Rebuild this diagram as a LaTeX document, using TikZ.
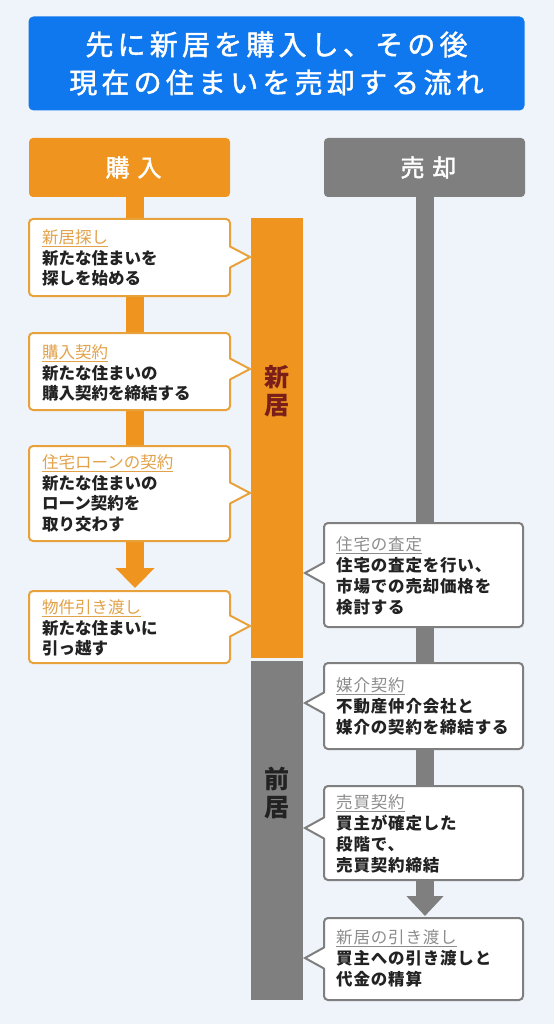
\documentclass[tikz,border=0pt]{standalone}
\usepackage{fontspec}
\setmainfont{Noto Sans CJK JP}
\newfontfamily\jpsp[LetterSpace=15,FakeBold=1.5]{Noto Sans CJK JP}
\newfontfamily\jphd[LetterSpace=33,FakeBold=1.8]{Noto Sans CJK JP}
\newfontfamily\jpsr[LetterSpace=5]{Noto Sans CJK JP}
\usetikzlibrary{arrows.meta}
\definecolor{bgc}{HTML}{EFF4FB}
\definecolor{tblue}{HTML}{1078EE}
\definecolor{org}{HTML}{EF951F}
\definecolor{orgl}{HTML}{E8A23C}
\definecolor{orgt}{HTML}{E2A24A}
\definecolor{gry}{HTML}{7F7F7F}
\definecolor{gryt}{HTML}{8C8C8C}
\definecolor{dred}{HTML}{7A1E1A}
\definecolor{ink}{HTML}{222222}
\newcommand\cbL[3]{%
  \draw[draw=orgl,fill=white,line width=2,rounded corners=4] (29,#1) rectangle (230,#2);
  \fill[white] (228,#3-10.5) -- (250,#3) -- (228,#3+10.5) -- cycle;
  \draw[draw=orgl,line width=2,line join=miter] (230,#3-10.5) -- (250,#3) -- (230,#3+10.5);}
\newcommand\cbR[3]{%
  \draw[draw=gry,fill=white,line width=2,rounded corners=4] (324,#1) rectangle (523,#2);
  \fill[white] (326,#3-10.5) -- (305,#3) -- (326,#3+10.5) -- cycle;
  \draw[draw=gry,line width=2,line join=miter] (324,#3-10.5) -- (305,#3) -- (324,#3+10.5);}
\newcommand\ttlL[1]{\textcolor{orgt}{\mdseries\underline{#1}}}
\newcommand\ttlR[1]{\textcolor{gryt}{\mdseries\underline{#1}}}
\begin{document}
\begin{tikzpicture}[x=1pt,y=-1pt,
  hdr/.style={minimum width=201,minimum height=59,inner sep=0,rounded corners=4,text=white,font=\jphd\fontsize{24}{28}\selectfont},
  bartxt/.style={align=center,font=\fontsize{25}{28}\selectfont\bfseries},
  ltxt/.style={inner sep=0,anchor=north west,align=left,text=ink,font=\fontsize{16.5}{20.5}\selectfont\bfseries},
  rtxt/.style={inner sep=0,anchor=north west,align=left,text=ink,font=\jpsr\fontsize{16.5}{21}\selectfont\bfseries}]
\useasboundingbox (0,0) rectangle (554,1024);
\fill[bgc] (0,0) rectangle (554,1024);
% title
\node[fill=tblue,rounded corners=5,minimum width=496,minimum height=94,inner sep=0] (title) at (276.5,63.5) {};
\node[text=white,align=center,font=\jpsp\fontsize{28}{38}\selectfont] (titletxt) at (title.center) {先に新居を購入し、その後\\現在の住まいを売却する流れ};
% headers
\node[hdr,fill=org] (hL) at (129.5,167.5) {\hspace{8pt}購入};
\node[hdr,fill=gry] (hR) at (424.5,167.5) {\hspace{8pt}売却};
% flow lines
\coordinate (aL) at (135,588);
\coordinate (aR) at (425,916);
\draw[org,line width=18,-{Triangle[width=38pt,length=20pt]}] (hL.south -| aL) -- (aL);
\draw[gry,line width=18,-{Triangle[width=36pt,length=20pt]}] (hR.south -| aR) -- (aR);
% bars
\node[fill=org,anchor=north,minimum width=52,minimum height=440,inner sep=0] (barN) at (277,218) {};
\node[bartxt,text=dred] (barNt) at (277,391) {新\\居};
\node[fill=gry,anchor=north,minimum width=52,minimum height=339,inner sep=0] (barO) at (277,661) {};
\node[bartxt,text=ink] (barOt) at (277,793) {前\\居};
% left callouts
\cbL{219}{296}{257}
\node[ltxt] (b1) at (42,229.5) {\ttlL{新居探し}\\新たな住まいを\\探しを始める};
\cbL{333}{410}{369}
\node[ltxt] (b2) at (42,344.5) {\ttlL{購入契約}\\新たな住まいの\\購入契約を締結する};
\cbL{446}{541}{493}
\node[ltxt] (b3) at (42,454.5) {\ttlL{住宅ローンの契約}\\新たな住まいの\\ローン契約を\\取り交わす};
\cbL{591}{663}{626}
\node[ltxt] (b4) at (42,599.5) {\ttlL{物件引き渡し}\\新たな住まいに\\引っ越す};
% right callouts
\cbR{523}{627}{573}
\node[rtxt] (b5) at (336,536.5) {\ttlR{住宅の査定}\\住宅の査定を行い、\\市場での売却価格を\\検討する};
\cbR{663}{749}{703}
\node[rtxt] (b6) at (336,677.5) {\ttlR{媒介契約}\\不動産仲介会社と\\媒介の契約を締結する};
\cbR{786}{880}{828}
\node[rtxt] (b7) at (336,794.5) {\ttlR{売買契約}\\買主が確定した\\段階で、\\売買契約締結};
\cbR{918}{1000}{958}
\node[rtxt] (b8) at (336,929.5) {\ttlR{新居の引き渡し}\\買主への引き渡しと\\代金の精算};
\end{tikzpicture}
\end{document}
